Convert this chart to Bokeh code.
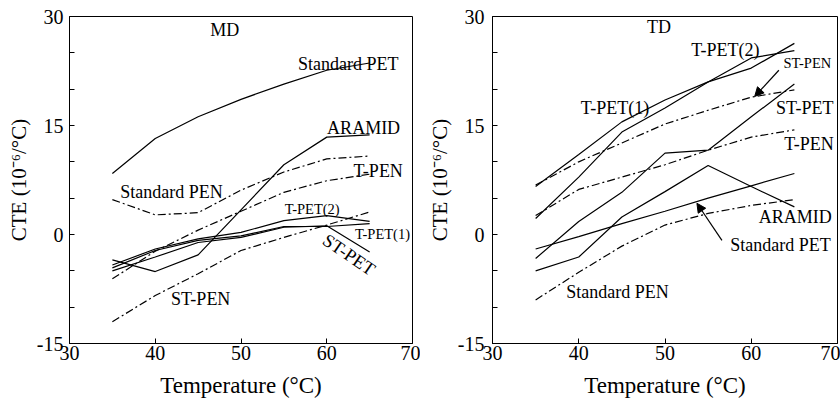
from bokeh.plotting import figure
from bokeh.layouts import row
from bokeh.models import Range1d, FixedTicker, Arrow, NormalHead, Label, PrintfTickFormatter
from bokeh.embed import file_html
from bokeh.resources import INLINE

FONT = "Liberation Serif"

# ---------------- data ----------------
temps = [35, 40, 45, 50, 55, 60, 65]

# MD (machine direction)
md_standard_pet = [8.4, 13.2, 16.2, 18.6, 20.7, 22.6, 23.6]
md_aramid = [-3.5, -5.1, -2.8, 3.4, 9.6, 13.4, 13.7]
md_standard_pen = [4.8, 2.7, 3.0, 6.1, 8.6, 10.4, 10.8]
md_t_pen = [-6.1, -2.3, 0.6, 3.2, 5.8, 7.4, 8.3]
md_st_pen = [-12.0, -8.4, -5.4, -2.2, -0.4, 1.3, 3.1]
md_t_pet1 = [-4.6, -2.2, -0.8, -0.2, 1.1, 1.1, 1.5]
md_t_pet2 = [-4.2, -2.0, -0.6, 0.3, 1.9, 2.6, 1.8]
md_st_pet = [-5.0, -3.1, -1.1, -0.4, 1.0, 1.2, -2.4]

# TD (transverse direction)
td_t_pet1 = [6.6, 11.0, 15.5, 18.5, 21.0, 22.9, 26.3]
td_t_pet2 = [2.2, 7.9, 14.1, 17.4, 21.0, 24.3, 25.3]
td_st_pen = [6.8, 10.0, 12.6, 15.2, 17.1, 18.9, 19.9]
td_st_pet = [-3.3, 1.8, 5.8, 11.2, 11.6, 16.2, 20.7]
td_t_pen = [2.6, 6.2, 7.9, 9.6, 11.6, 13.4, 14.4]
td_aramid = [-5.0, -3.1, 2.4, 5.9, 9.5, 6.6, 3.8]
td_standard_pet = [-2.0, -0.3, 1.5, 3.2, 5.0, 6.7, 8.4]
td_standard_pen = [-9.0, -5.2, -1.6, 1.3, 2.9, 4.0, 4.8]

x_ticks = [30, 40, 50, 60, 70]
y_ticks = [-15, 0, 15, 30]
y_minor = [-10, -5, 5, 10, 20, 25]

DASHDOT = "8 3 2 3"


def make_panel(width, border_left, border_right, ylabel_standoff):
    p = figure(width=width, height=401, output_backend="svg", toolbar_location=None,
               x_range=Range1d(30, 70), y_range=Range1d(-15, 30),
               min_border_left=border_left, min_border_right=border_right,
               min_border_top=16, min_border_bottom=58)
    p.background_fill_color = "white"
    p.border_fill_color = "white"
    p.outline_line_color = "black"
    p.outline_line_width = 1
    p.xgrid.visible = False
    p.ygrid.visible = False
    p.xaxis.ticker = FixedTicker(ticks=x_ticks)
    p.yaxis.ticker = FixedTicker(ticks=y_ticks, minor_ticks=y_minor)
    p.yaxis.formatter = PrintfTickFormatter(format="%d")
    p.xaxis.formatter = PrintfTickFormatter(format="%d")
    for ax in (p.xaxis, p.yaxis):
        ax.axis_line_color = "black"
        ax.major_tick_line_color = "black"
        ax.major_tick_in = 5
        ax.major_tick_out = 0
        ax.minor_tick_in = 5
        ax.minor_tick_out = 0
        ax.major_label_text_font = FONT
        ax.major_label_text_font_size = "20px"
        ax.major_label_text_color = "black"
        ax.axis_label_text_font = FONT
        ax.axis_label_text_font_style = "normal"
        ax.axis_label_text_color = "black"
    p.xaxis.axis_label_text_font_size = "23px"
    p.yaxis.axis_label_text_font_size = "21px"
    p.xaxis.minor_tick_line_color = None
    p.yaxis.minor_tick_line_color = "black"
    p.xaxis.major_label_standoff = 2
    p.xaxis.axis_label_standoff = 10
    p.yaxis.major_label_standoff = ylabel_standoff
    p.yaxis.axis_label_standoff = 3
    p.xaxis.axis_label = "Temperature (°C)"
    p.yaxis.axis_label = "CTE (10⁻⁶/°C)"
    return p


def add_label(p, x, y, text, size="18px", angle=0.0):
    p.add_layout(Label(x=x, y=y, text=text, text_font=FONT, text_font_size=size,
                       text_align="center", text_baseline="middle", angle=angle,
                       text_color="black"))


def solid(p, ys):
    p.line(temps, ys, line_color="black", line_width=1.2)


def dashdot(p, ys):
    p.line(temps, ys, line_color="black", line_width=1.2, line_dash=DASHDOT)


# ---------------- MD panel ----------------
p1 = make_panel(420, 69, 8, 6)
solid(p1, md_standard_pet)
solid(p1, md_aramid)
solid(p1, md_t_pet1)
solid(p1, md_t_pet2)
solid(p1, md_st_pet)
dashdot(p1, md_standard_pen)
dashdot(p1, md_t_pen)
dashdot(p1, md_st_pen)

add_label(p1, 48.1, 28.2, "MD")
add_label(p1, 62.5, 23.5, "Standard PET")
add_label(p1, 64.3, 14.7, "ARAMID")
add_label(p1, 66.0, 8.8, "T-PEN")
add_label(p1, 41.9, 5.8, "Standard PEN")
add_label(p1, 58.3, 3.5, "T-PET(2)", size="14.5px")
add_label(p1, 66.5, 0.1, "T-PET(1)", size="14.5px")
add_label(p1, 62.6, -2.8, "ST-PET", size="18.5px", angle=-0.6)
add_label(p1, 45.3, -8.9, "ST-PEN")

# ---------------- TD panel ----------------
p2 = make_panel(420, 72, 3, 8)
solid(p2, td_t_pet1)
solid(p2, td_t_pet2)
solid(p2, td_st_pet)
solid(p2, td_aramid)
solid(p2, td_standard_pet)
dashdot(p2, td_st_pen)
dashdot(p2, td_t_pen)
dashdot(p2, td_standard_pen)

add_label(p2, 49.3, 28.6, "TD")
add_label(p2, 57.0, 25.4, "T-PET(2)")
add_label(p2, 66.5, 23.6, "ST-PEN", size="14.5px")
add_label(p2, 44.2, 17.4, "T-PET(1)")
add_label(p2, 66.2, 17.4, "ST-PET")
add_label(p2, 66.7, 12.5, "T-PEN")
add_label(p2, 65.1, 2.4, "ARAMID")
add_label(p2, 63.4, -1.5, "Standard PET")
add_label(p2, 44.5, -7.9, "Standard PEN")

p2.add_layout(Arrow(end=NormalHead(size=9, fill_color="black", line_color="black"),
                    x_start=63.2, y_start=22.6, x_end=60.4, y_end=19.0,
                    line_color="black", line_width=1.2))
p2.add_layout(Arrow(end=NormalHead(size=9, fill_color="black", line_color="black"),
                    x_start=56.6, y_start=-0.8, x_end=53.7, y_end=4.3,
                    line_color="black", line_width=1.2))

layout = row(p1, p2)
open("out.html", "w").write(file_html(layout, INLINE))
